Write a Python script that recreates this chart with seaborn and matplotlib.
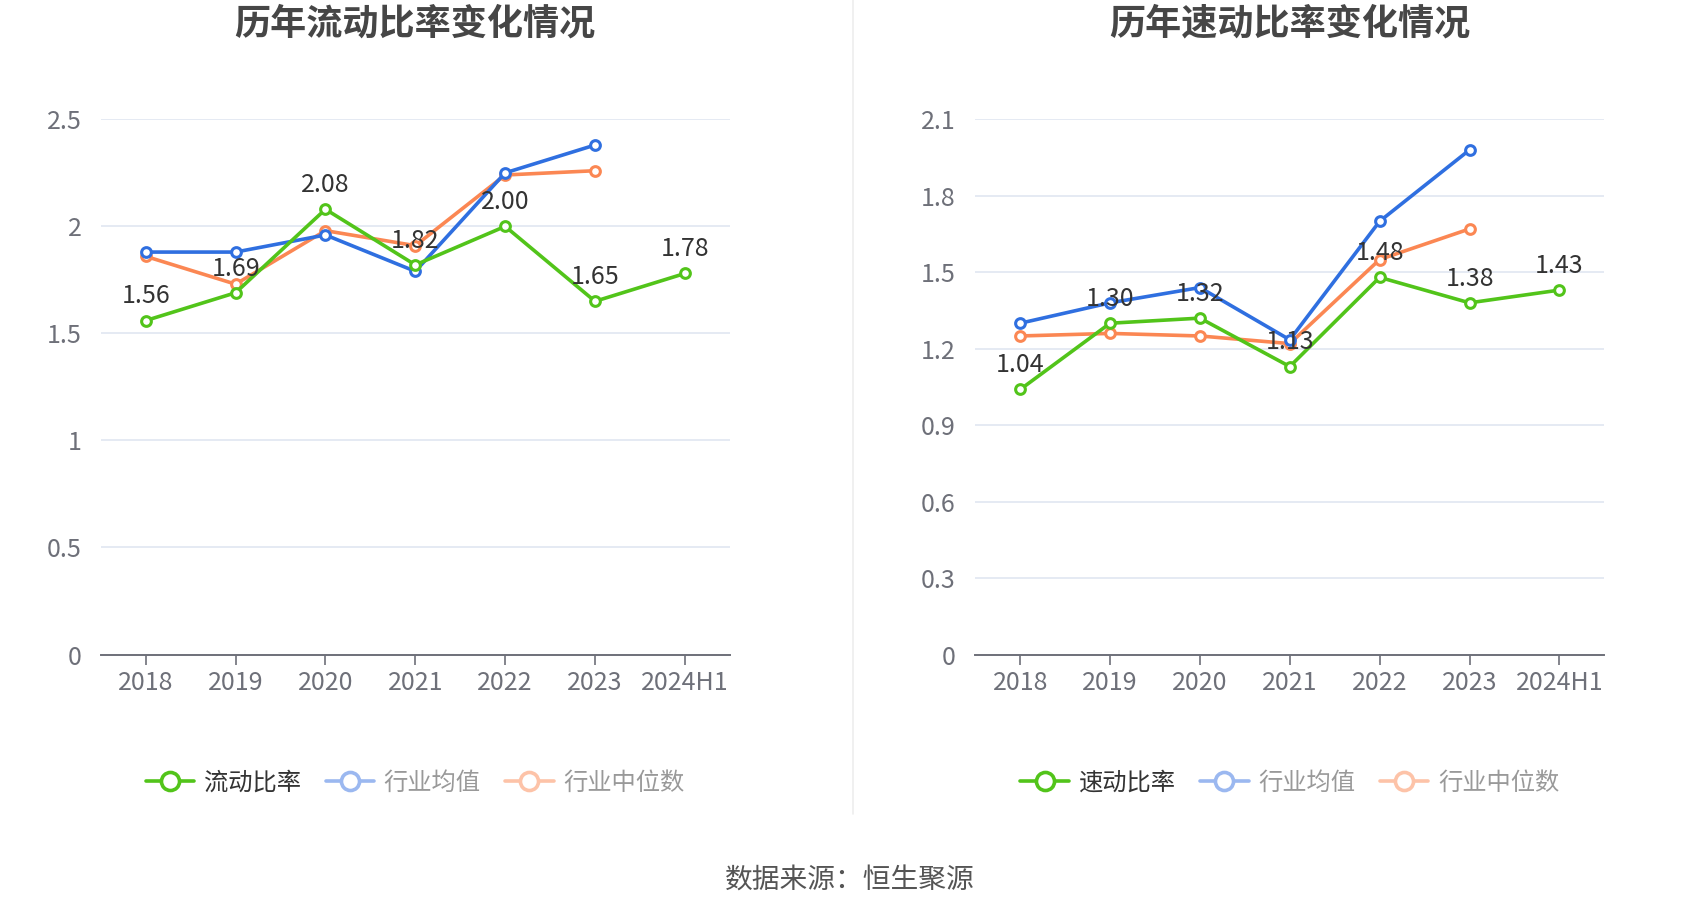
import matplotlib
matplotlib.use("Agg")
import matplotlib.pyplot as plt
import seaborn as sns
import pandas as pd
from matplotlib.lines import Line2D

years = ["2018", "2019", "2020", "2021", "2022", "2023", "2024H1"]

current_ratio = [1.56, 1.69, 2.08, 1.82, 2.00, 1.65, 1.78]
current_mean = [1.88, 1.88, 1.96, 1.79, 2.25, 2.38, None]
current_median = [1.86, 1.73, 1.98, 1.91, 2.24, 2.26, None]

quick_ratio = [1.04, 1.30, 1.32, 1.13, 1.48, 1.38, 1.43]
quick_mean = [1.30, 1.38, 1.44, 1.235, 1.70, 1.98, None]
quick_median = [1.25, 1.26, 1.25, 1.22, 1.55, 1.67, None]

left_ticks = [0, 0.5, 1, 1.5, 2, 2.5]
left_tick_labels = ["0", "0.5", "1", "1.5", "2", "2.5"]
right_ticks = [0, 0.3, 0.6, 0.9, 1.2, 1.5, 1.8, 2.1]
right_tick_labels = ["0", "0.3", "0.6", "0.9", "1.2", "1.5", "1.8", "2.1"]

sns.set_theme(style="white")
plt.rcParams["font.family"] = ["Noto Sans CJK SC", "DejaVu Sans"]

GREEN = "#52c41a"
BLUE = "#2f6fe0"
ORANGE = "#fb8753"
GRID = "#e0e6f1"
AXIS = "#6e7079"

fig = plt.figure(figsize=(17, 9.18), dpi=100)
ax1 = fig.add_axes([0.0593, 0.287, 0.370, 0.583])
ax2 = fig.add_axes([0.5737, 0.287, 0.370, 0.583])


def draw(ax, title, main_name, main, mean, median, ticks, tick_labels, ymax):
    x = list(range(len(years)))
    series = [(median, ORANGE, 1), (mean, BLUE, 2), (main, GREEN, 3)]
    for vals, col, z in series:
        df = pd.DataFrame({"x": x, "y": vals}).dropna()
        sns.lineplot(data=df, x="x", y="y", ax=ax, color=col, linewidth=2.6,
                     marker="o", markersize=7, markerfacecolor="white",
                     markeredgecolor=col, markeredgewidth=2.2, zorder=z)
    for xi, v in zip(x, main):
        ax.annotate(f"{v:.2f}", (xi, v), xytext=(0, 8), textcoords="offset points",
                    ha="center", va="bottom", fontsize=18, color="#333333", zorder=5)
    ax.set_xlim(-0.5, len(years) - 0.5)
    ax.set_ylim(0, ymax)
    ax.set_yticks(ticks)
    ax.set_yticklabels(tick_labels)
    ax.set_xticks(x)
    ax.set_xticklabels(years)
    ax.tick_params(axis="y", length=0, labelsize=18, labelcolor=AXIS, pad=14)
    ax.tick_params(axis="x", length=7, width=1.2, color=AXIS, labelsize=18,
                   labelcolor=AXIS, pad=4, direction="out", bottom=True)
    ax.grid(axis="y", color=GRID, linewidth=1.2)
    ax.grid(axis="x", visible=False)
    for s in ["top", "right", "left"]:
        ax.spines[s].set_visible(False)
    ax.spines["bottom"].set_color(AXIS)
    ax.spines["bottom"].set_linewidth(1.4)
    ax.set_xlabel("")
    ax.set_ylabel("")
    pos = ax.get_position()
    fig.text((pos.x0 + pos.x1) / 2, 0.974, title, ha="center", va="center",
             fontsize=26, fontweight="bold", color="#464646")
    handles = [
        Line2D([0], [0], color=GREEN, linewidth=2.6, marker="o", markersize=13,
               markerfacecolor="white", markeredgecolor=GREEN, markeredgewidth=2.6),
        Line2D([0], [0], color="#9bb8f0", linewidth=2.6, marker="o", markersize=13,
               markerfacecolor="white", markeredgecolor="#9bb8f0", markeredgewidth=2.6),
        Line2D([0], [0], color="#fdc3a8", linewidth=2.6, marker="o", markersize=13,
               markerfacecolor="white", markeredgecolor="#fdc3a8", markeredgewidth=2.6),
    ]
    leg = ax.legend(handles, [main_name, "行业均值", "行业中位数"], loc="center",
                    bbox_to_anchor=(0.5, -0.240), ncol=3, frameon=False, fontsize=17.5,
                    handlelength=2.0, handletextpad=0.4, columnspacing=1.0)
    cols = ["#333333", "#999999", "#999999"]
    for t, c in zip(leg.get_texts(), cols):
        t.set_color(c)


draw(ax1, "历年流动比率变化情况", "流动比率", current_ratio, current_mean, current_median,
     left_ticks, left_tick_labels, 2.5)
draw(ax2, "历年速动比率变化情况", "速动比率", quick_ratio, quick_mean, quick_median,
     right_ticks, right_tick_labels, 2.1)

fig.add_artist(Line2D([0.502, 0.502], [0.113, 1.0], transform=fig.transFigure,
                      color="#eeeeee", linewidth=1.2))
fig.text(0.500, 0.041, "数据来源：恒生聚源", ha="center", va="center", fontsize=20,
         color="#555555")

fig.savefig("out.png", dpi=100, facecolor="white")
